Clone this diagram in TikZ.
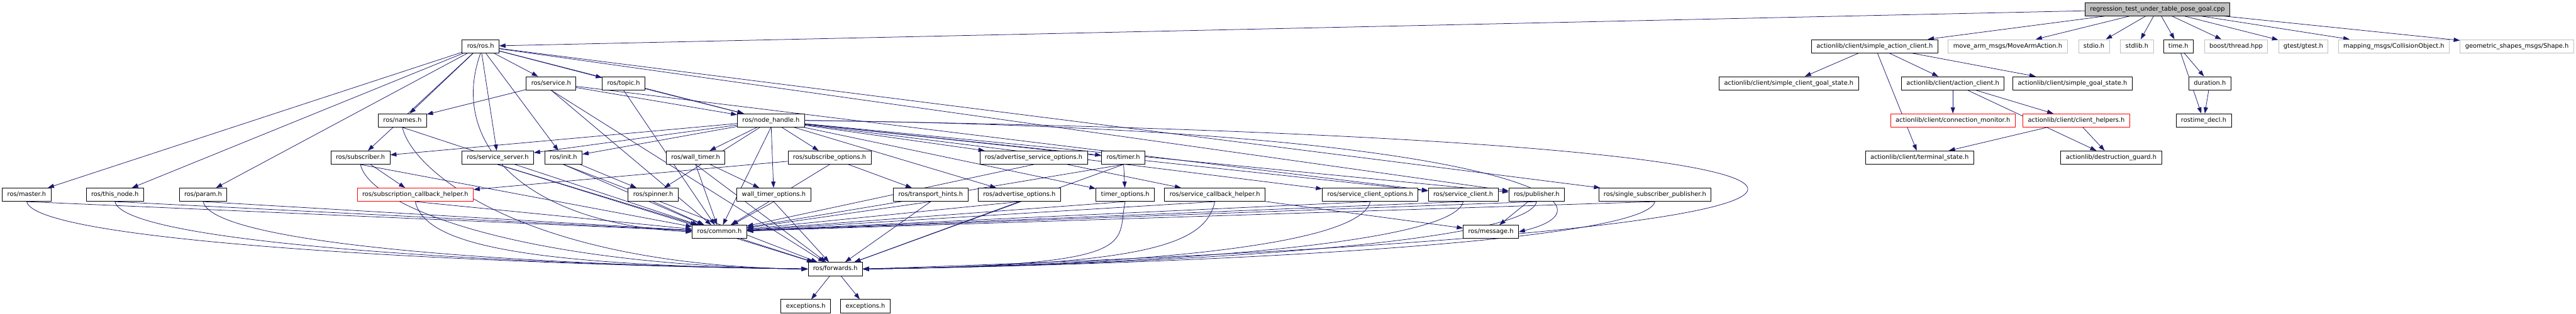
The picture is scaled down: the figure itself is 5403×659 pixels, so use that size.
\documentclass[tikz,border=0pt]{standalone}
\usepackage{fontspec}
\setmainfont{DejaVu Sans}
\usepackage{xcolor}
\usepackage{tikz}
\usetikzlibrary{arrows.meta,backgrounds}
\definecolor{edgecolor}{HTML}{191970}
\definecolor{missingcolor}{HTML}{BFBFBF}
\definecolor{mainfill}{HTML}{BFBFBF}
\tikzset{file/.style={draw=black,line width=1.1pt,fill=white,inner xsep=10.5pt,inner ysep=0pt,minimum height=28pt,text height=10pt,text depth=3pt,font=\fontsize{13}{15}\selectfont},missing/.style={file,draw=missingcolor},truncated/.style={file,draw=red},mainfile/.style={file,fill=mainfill},dep/.style={-{Triangle[length=13pt,width=9pt]},draw=edgecolor,line width=1pt}}

\begin{document}
\begin{tikzpicture}[x=1pt,y=-1pt]
 \useasboundingbox (0,0) rectangle (5403,659);

 \node[mainfile] (reg) at (4525,19.5) {regression\_test\_under\_table\_pose\_goal.cpp};

 \node[file] (rosh) at (1008,97) {ros/ros.h};
 \node[file] (sac) at (3932,97) {actionlib/client/simple\_action\_client.h};
 \node[missing] (maa) at (4211,97) {move\_arm\_msgs/MoveArmAction.h};
 \node[missing] (stdioh) at (4392,97) {stdio.h};
 \node[missing] (stdlibh) at (4482,97) {stdlib.h};
 \node[file] (timeh) at (4569,97) {time.h};
 \node[missing] (boostth) at (4690,97) {boost/thread.hpp};
 \node[missing] (gtesth) at (4831,97) {gtest/gtest.h};
 \node[missing] (mapco) at (5021,97) {mapping\_msgs/CollisionObject.h};
 \node[missing] (geoshape) at (5279,97) {geometric\_shapes\_msgs/Shape.h};

 \node[file] (service) at (1156,175) {ros/service.h};
 \node[file] (topic) at (1308,175) {ros/topic.h};
 \node[file] (scgs) at (3752,175) {actionlib/client/simple\_client\_goal\_state.h};
 \node[file] (acl) at (4096,175) {actionlib/client/action\_client.h};
 \node[file] (sgs) at (4347,175) {actionlib/client/simple\_goal\_state.h};
 \node[file] (duration) at (4635,175) {duration.h};

 \node[file] (names) at (844,253) {ros/names.h};
 \node[file] (nodehandle) at (1617,253) {ros/node\_handle.h};
 \node[truncated] (connmon) at (4096,253) {actionlib/client/connection\_monitor.h};
 \node[truncated] (clienthelpers) at (4355,253) {actionlib/client/client\_helpers.h};
 \node[file] (rostimedecl) at (4622,253) {rostime\_decl.h};

 \node[file] (subscriber) at (756,331) {ros/subscriber.h};
 \node[file] (servserver) at (1044,331) {ros/service\_server.h};
 \node[file] (init) at (1182,331) {ros/init.h};
 \node[file] (walltimer) at (1459,331) {ros/wall\_timer.h};
 \node[file] (subopts) at (1740,331) {ros/subscribe\_options.h};
 \node[file] (advservopts) at (2168,331) {ros/advertise\_service\_options.h};
 \node[file] (timer) at (2356,331) {ros/timer.h};
 \node[file] (termstate) at (4026,331) {actionlib/client/terminal\_state.h};
 \node[file] (destguard) at (4428,331) {actionlib/destruction\_guard.h};

 \node[file] (master) at (56,409) {ros/master.h};
 \node[file] (thisnode) at (241,409) {ros/this\_node.h};
 \node[file] (param) at (426,409) {ros/param.h};
 \node[truncated] (subcbhelper) at (871,409) {ros/subscription\_callback\_helper.h};
 \node[file] (spinner) at (1370,409) {ros/spinner.h};
 \node[file] (walltimeropts) at (1623,409) {wall\_timer\_options.h};
 \node[file] (transhints) at (1952,409) {ros/transport\_hints.h};
 \node[file] (advopts) at (2138,409) {ros/advertise\_options.h};
 \node[file] (timeropts) at (2360,409) {timer\_options.h};
 \node[file] (servcbhelper) at (2548,409) {ros/service\_callback\_helper.h};
 \node[file] (servclientopts) at (2874,409) {ros/service\_client\_options.h};
 \node[file] (servclient) at (3069,409) {ros/service\_client.h};
 \node[file] (publisher) at (3223,409) {ros/publisher.h};
 \node[file] (ssp) at (3471,409) {ros/single\_subscriber\_publisher.h};

 \node[file] (common) at (1509,487) {ros/common.h};
 \node[file] (message) at (3127,487) {ros/message.h};
 \node[file] (forwards) at (1752,565) {ros/forwards.h};
 \node[file] (exc1) at (1690,643) {exceptions.h};
 \node[file] (exc2) at (1815,643) {exceptions.h};

 \begin{scope}[on background layer]
 % includes of the test file and the actionlib side
 \foreach \src/\dst in {reg/rosh,reg/sac,reg/maa,reg/stdioh,reg/stdlibh,reg/timeh,reg/boostth,reg/gtesth,reg/mapco,reg/geoshape,sac/scgs,sac/acl,sac/sgs,sac/termstate,acl/connmon,acl/clienthelpers,acl/destguard,clienthelpers/termstate,clienthelpers/destguard,timeh/duration,timeh/rostimedecl,duration/rostimedecl} {\draw[dep] (\src)--(\dst);}

 % roscpp headers
 \foreach \src/\dst in {rosh/master,rosh/thisnode,rosh/param,rosh/names,rosh/subscriber,rosh/servserver,rosh/init,rosh/service,rosh/topic,rosh/nodehandle,rosh/publisher,rosh/ssp,service/names,service/nodehandle,service/servclient,topic/nodehandle,nodehandle/subscriber,nodehandle/servserver,nodehandle/init,nodehandle/spinner,nodehandle/walltimer,nodehandle/walltimeropts,nodehandle/subopts,nodehandle/advservopts,nodehandle/timer,nodehandle/advopts,nodehandle/timeropts,nodehandle/servclientopts,nodehandle/servclient,nodehandle/publisher,walltimer/walltimeropts,subopts/transhints,subopts/subcbhelper,advservopts/servcbhelper,timer/timeropts,subscriber/subcbhelper,init/spinner,servcbhelper/message,publisher/message,forwards/exc1,forwards/exc2} {\draw[dep] (\src)--(\dst);}

 \foreach \src in {master,thisnode,param,names,subscriber,servserver,subcbhelper,init,service,walltimeropts,transhints,advopts,timeropts,servcbhelper,servclientopts,servclient,publisher,ssp,walltimer,timer,topic,spinner,subopts,advservopts,nodehandle} {\draw[dep] (\src.south)--(common);}
 \foreach \src in {servserver,init,service,walltimeropts,transhints,advopts,walltimer,timer} {\draw[dep] (\src.south)--(forwards);}
 % long includes of ros/forwards.h bend below the lower rows
 \foreach \src in {master,thisnode,param,names,subscriber,subcbhelper} {\draw[dep] (\src.south) .. controls +(20,90) and +(-600,-8) .. (forwards.west);}
 \foreach \src in {timeropts,servcbhelper,servclientopts,servclient,publisher,ssp} {\draw[dep] (\src.south) .. controls +(-20,90) and +(600,-8) .. (forwards.east);}
 \draw[dep] (common)--(forwards);

 \draw[dep] (rosh.south) .. controls (940,300) and (1100,470) .. (common.west);
 \draw[dep] (nodehandle.east) .. controls (3150,270) and (3420,430) .. (message.east);
 \draw[dep] (nodehandle.east) .. controls (4200,290) and (4400,480) .. (forwards.east);
 \end{scope}
\end{tikzpicture}
\end{document}
